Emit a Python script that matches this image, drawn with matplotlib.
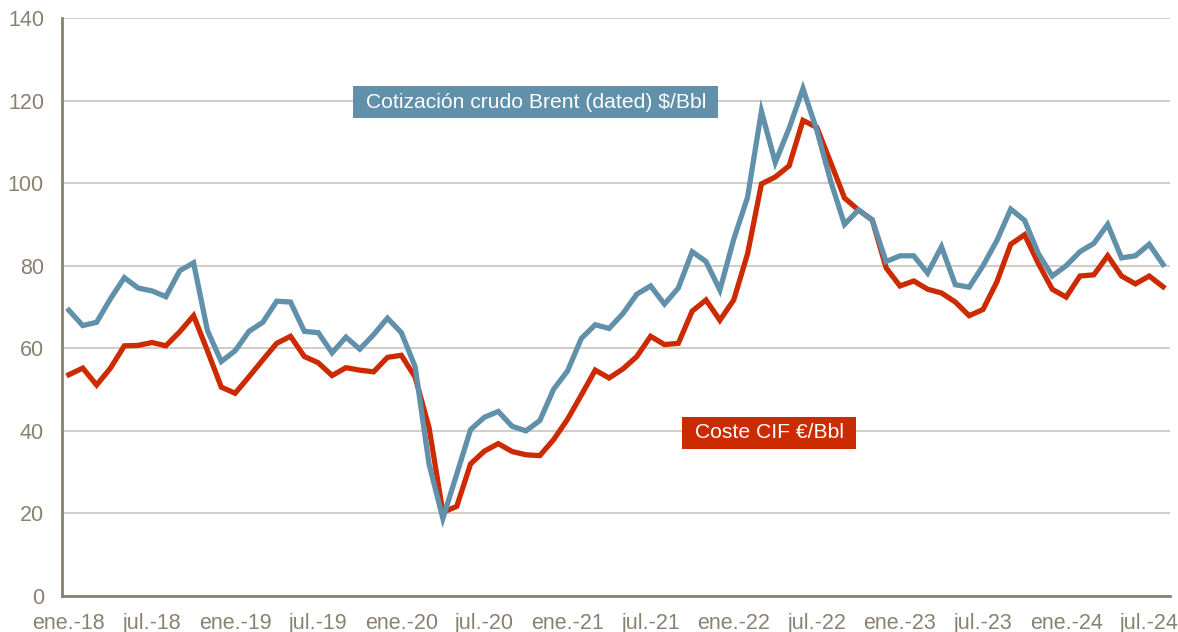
import matplotlib
matplotlib.use('Agg')
import matplotlib.pyplot as plt
import numpy as np

#################
### DATA ###
#################

# mensual, ene.-18 .. ago.-24
brent = [69.2, 65.5, 66.3, 72.0, 77.1, 74.6, 73.9, 72.5, 78.8, 80.7, 64.3, 56.8,
         59.4, 64.1, 66.3, 71.4, 71.2, 64.1, 63.8, 58.9, 62.7, 59.8, 63.3, 67.3,
         63.8, 55.5, 32.0, 18.8, 29.5, 40.3, 43.3, 44.7, 41.1, 40.0, 42.5, 50.1,
         54.5, 62.4, 65.7, 64.8, 68.4, 73.1, 75.1, 70.7, 74.6, 83.4, 81.0, 74.1,
         86.4, 96.6, 117.4, 105.0, 113.3, 122.9, 112.8, 100.5, 90.0, 93.5, 91.1, 81.0,
         82.4, 82.4, 78.2, 84.6, 75.4, 74.8, 80.0, 86.1, 93.7, 91.0, 82.9, 77.5,
         80.0, 83.4, 85.4, 90.0, 81.9, 82.4, 85.2, 80.3]

coste_cif = [53.6, 55.2, 51.1, 55.2, 60.6, 60.7, 61.4, 60.6, 64.0, 67.9, 59.4, 50.6,
             49.1, 53.1, 57.2, 61.2, 62.9, 58.0, 56.5, 53.4, 55.3, 54.7, 54.3, 57.8,
             58.3, 53.0, 40.8, 20.3, 21.7, 32.0, 35.1, 36.9, 35.0, 34.2, 34.0, 37.9,
             42.8, 48.7, 54.7, 52.8, 55.0, 58.0, 62.9, 60.9, 61.2, 69.0, 71.7, 66.8,
             71.7, 82.9, 99.8, 101.5, 104.2, 115.2, 113.5, 105.0, 96.4, 93.5, 91.1, 79.5,
             75.1, 76.3, 74.3, 73.4, 71.2, 67.9, 69.4, 76.1, 85.2, 87.5, 80.5, 74.3,
             72.4, 77.5, 77.8, 82.4, 77.5, 75.6, 77.5, 74.9]

tick_labels = ['ene.-18', 'jul.-18', 'ene.-19', 'jul.-19', 'ene.-20', 'jul.-20',
               'ene.-21', 'jul.-21', 'ene.-22', 'jul.-22', 'ene.-23', 'jul.-23',
               'ene.-24', 'jul.-24']

label_brent = 'Cotización crudo Brent (dated) $/Bbl'
label_cif = 'Coste CIF €/Bbl'

#################
### PLOT ###
#################

plt.rcParams['font.family'] = ['Liberation Sans', 'DejaVu Sans']

col_blue = '#6090aa'
col_red = '#cc2a00'
col_axis = '#8a8270'
col_grid = '#c9c4bc'

fig = plt.figure(figsize=(11.78, 6.32), dpi=100)
ax = fig.add_axes([62 / 1178, 1 - 596 / 632, (1170 - 62) / 1178, (596 - 18) / 632])

x = np.arange(len(brent))
ax.plot(x, coste_cif, color=col_red, lw=3.8, solid_joinstyle='miter', zorder=3)
ax.plot(x, brent, color=col_blue, lw=3.8, solid_joinstyle='miter', zorder=4)

ax.set_xlim(-0.5, len(brent) - 0.5)
ax.set_ylim(0, 140)
ax.set_yticks(range(0, 141, 20))
ax.set_xticks(range(0, len(brent), 6))
ax.set_xticklabels(tick_labels)

ax.grid(axis='y', color=col_grid, lw=1.2, zorder=0)
ax.set_axisbelow(True)
for s in ['top', 'right']:
    ax.spines[s].set_visible(False)
for s in ['left', 'bottom']:
    ax.spines[s].set_color(col_axis)
    ax.spines[s].set_linewidth(2)
ax.tick_params(length=0, labelsize=15.5, labelcolor=col_axis)
ax.tick_params(axis='y', pad=13)
ax.tick_params(axis='x', pad=12)

# etiquetas de serie (espacios para el margen lateral de la caja)
ax.text(21.0, 119.6, ' ' + label_brent + ' ', fontsize=15.25, color='white',
        ha='left', va='center',
        bbox=dict(boxstyle='square,pad=0.3', fc=col_blue, ec='none'), zorder=5)
ax.text(44.75, 39.5, ' ' + label_cif + ' ', fontsize=15.25, color='white',
        ha='left', va='center',
        bbox=dict(boxstyle='square,pad=0.3', fc=col_red, ec='none'), zorder=5)

fig.savefig('out.png', dpi=100)
